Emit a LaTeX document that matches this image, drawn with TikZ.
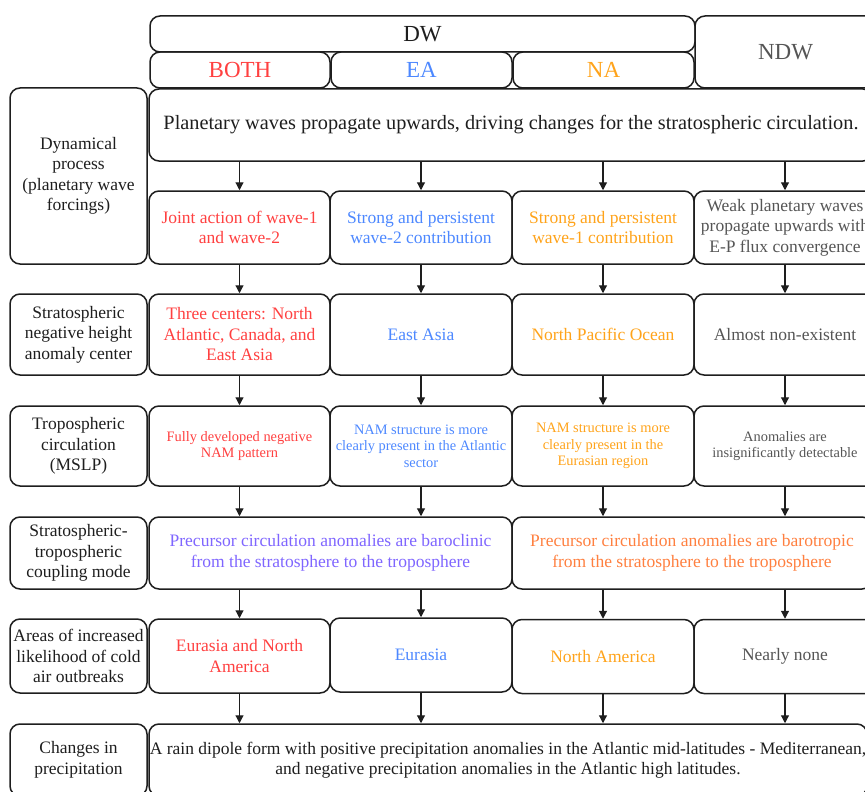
\documentclass[tikz,border=0pt]{standalone}
\usepackage{fontspec}
\setmainfont{Liberation Serif}
\usetikzlibrary{arrows.meta,calc}
\definecolor{cboth}{HTML}{FF4040}
\definecolor{cea}{HTML}{4D88FF}
\definecolor{cna}{HTML}{FFA31A}
\definecolor{cndw}{HTML}{555555}
\definecolor{cbcl}{HTML}{7F66FF}
\definecolor{cbtr}{HTML}{FF8040}
\definecolor{cline}{HTML}{1E1E1E}
\begin{document}
\begin{tikzpicture}[x=1pt,y=-1pt,
  bx/.style={draw=cline, line width=1.5pt, rounded corners=10pt, align=center, inner sep=0pt},
  hd/.style={font=\fontsize{23}{26}\selectfont},
  tx/.style={font=\fontsize{17.5}{20.5}\selectfont},
  sm/.style={font=\fontsize{14.4}{16.7}\selectfont},
  lab/.style={bx, tx, minimum width=137pt, text=cline},
  ca/.style={bx, minimum width=181pt},
  cb/.style={bx, minimum width=182pt},
  arr/.style={draw=cline, line width=1.2pt, -{Triangle[length=8pt,width=8pt]}},
]
\useasboundingbox (0,0) rectangle (865,792);
\clip (0,0) rectangle (865,792);

% header
\node[bx, hd, minimum width=545pt, minimum height=36pt, text=cline] (dw) at (422.5,34) {DW};
\node[bx, hd, minimum width=180pt, minimum height=36pt, text=cboth] (hboth) at (240,70) {BOTH};
\node[bx, hd, minimum width=181pt, minimum height=36pt, text=cea] (hea) at (421.5,70) {EA};
\node[bx, hd, minimum width=181pt, minimum height=36pt, text=cna] (hna) at (603.5,70) {NA};
\node[bx, hd, minimum width=181pt, minimum height=72pt, text=cndw] (hndw) at (785.5,52) {NDW};

% row 1
\node[lab, minimum height=176pt] (l1) at (78.5,176) {Dynamical\\process\\(planetary wave\\forcings)};
\node[bx, font=\fontsize{20.3}{23}\selectfont, minimum width=724pt, minimum height=72pt, text=cline] (pw) at (511,125)
  {Planetary waves propagate upwards, driving changes for the stratospheric circulation.};
\node[ca, tx, minimum height=73pt, text=cboth] (r1a) at (239.5,227.5) {Joint action of wave-1\\and wave-2};
\node[cb, tx, minimum height=73pt, text=cea] (r1b) at (421,227.5) {Strong and persistent\\wave-2 contribution};
\node[cb, tx, minimum height=73pt, text=cna] (r1c) at (603,227.5) {Strong and persistent\\wave-1 contribution};
\node[cb, tx, minimum height=73pt, text=cndw] (r1d) at (785,227.5) {Weak planetary waves\\propagate upwards with\\E-P flux convergence};

% row 2
\node[lab, minimum height=81pt] (l2) at (78.5,334.5) {Stratospheric\\negative height\\anomaly center};
\node[ca, tx, minimum height=81pt, text=cboth] (r2a) at (239.5,334.5) {Three centers: North\\Atlantic, Canada, and\\East Asia};
\node[cb, tx, minimum height=81pt, text=cea] (r2b) at (421,334.5) {East Asia};
\node[cb, tx, minimum height=81pt, text=cna] (r2c) at (603,334.5) {North Pacific Ocean};
\node[cb, tx, minimum height=81pt, text=cndw] (r2d) at (785,334.5) {Almost non-existent};

% row 3
\node[lab, minimum height=80pt] (l3) at (78.5,446) {Tropospheric\\circulation\\(MSLP)};
\node[ca, sm, minimum height=80pt, text=cboth] (r3a) at (239.5,446) {Fully developed negative\\NAM pattern};
\node[cb, sm, minimum height=80pt, text=cea] (r3b) at (421,446) {NAM structure is more\\clearly present in the Atlantic\\sector};
\node[cb, sm, minimum height=80pt, text=cna] (r3c) at (603,446) {NAM structure is more\\clearly present in the\\Eurasian region};
\node[cb, sm, minimum height=80pt, text=cndw] (r3d) at (785,446) {Anomalies are\\insignificantly detectable};

% row 4
\node[lab, minimum height=72pt] (l4) at (78.5,553) {Stratospheric-\\tropospheric\\coupling mode};
\node[bx, tx, minimum width=363pt, minimum height=72pt, text=cbcl] (bcl) at (330.5,553)
  {Precursor circulation anomalies are baroclinic\\from the stratosphere to the troposphere};
\node[bx, tx, minimum width=360pt, minimum height=72pt, text=cbtr] (btr) at (692,553)
  {Precursor circulation anomalies are barotropic\\from the stratosphere to the troposphere};

% row 5
\node[lab, minimum height=74pt] (l5) at (78.5,656) {Areas of increased\\likelihood of cold\\air outbreaks};
\node[ca, tx, minimum height=74pt, text=cboth] (r5a) at (239.5,656) {Eurasia and North\\America};
\node[cb, tx, minimum height=74pt, text=cea] (r5b) at (421,655) {Eurasia};
\node[cb, tx, minimum height=74pt, text=cna] (r5c) at (603,656.5) {North America};
\node[cb, tx, minimum height=74pt, text=cndw] (r5d) at (785,656.5) {Nearly none};

% row 6
\node[lab, minimum height=72pt] (l6) at (78.5,760) {Changes in\\precipitation};
\node[bx, tx, minimum width=718pt, minimum height=72pt, text=cline] (pr) at (508,760)
  {A rain dipole form with positive precipitation anomalies in the Atlantic mid-latitudes - Mediterranean,\\and negative precipitation anomalies in the Atlantic high latitudes.};

% arrows
\foreach \c in {r1a,r1b,r1c,r1d}{
  \draw[arr] (\c.north |- pw.south) -- (\c.north);
}
\draw[arr] (r1a) -- (r2a);
\draw[arr] (r1b) -- (r2b);
\draw[arr] (r1c) -- (r2c);
\draw[arr] (r1d) -- (r2d);
\draw[arr] (r2a) -- (r3a);
\draw[arr] (r2b) -- (r3b);
\draw[arr] (r2c) -- (r3c);
\draw[arr] (r2d) -- (r3d);
\draw[arr] (r3a.south) -- (r3a.south |- bcl.north);
\draw[arr] (r3b.south) -- (r3b.south |- bcl.north);
\draw[arr] (r3c.south) -- (r3c.south |- btr.north);
\draw[arr] (r3d.south) -- (r3d.south |- btr.north);
\draw[arr] (r5a.north |- bcl.south) -- (r5a.north);
\draw[arr] (r5b.north |- bcl.south) -- (r5b.north);
\draw[arr] (r5c.north |- btr.south) -- (r5c.north);
\draw[arr] (r5d.north |- btr.south) -- (r5d.north);
\foreach \c in {r5a,r5b,r5c,r5d}{
  \draw[arr] (\c.south) -- (\c.south |- pr.north);
}
\end{tikzpicture}
\end{document}
